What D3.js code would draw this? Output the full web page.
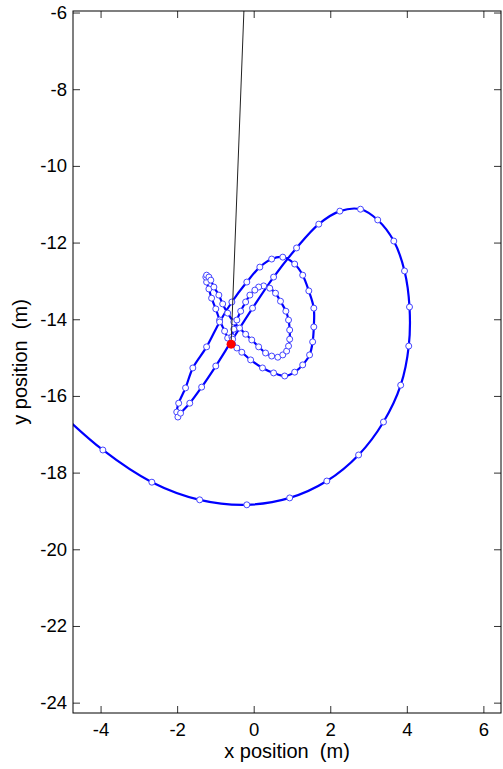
<!DOCTYPE html>
<html><head><meta charset="utf-8">
<script src="https://cdn.jsdelivr.net/npm/d3@7"></script>
<style>
body{margin:0;background:#fff}
svg{display:block}
text{font-family:"Liberation Sans",Arial,sans-serif;fill:#000}
</style>
</head><body>
<svg id="chart" width="503" height="769"></svg>
<script>
// trajectory (x, y in metres)
const xPos = [-0.60,-0.68,-0.76,-0.89,-0.99,-1.10,-1.17,-1.23,-1.25,-1.23,-1.17,-1.12,-1.04,-0.91,-0.81,-0.68,-0.52,-0.37,-0.21,-0.05,
  0.13,0.31,0.47,0.63,0.76,0.86,0.91,0.94,0.94,0.91,0.84,0.70,0.57,0.42,0.26,0.13,0.03,-0.10,-0.21,-0.34,
  -0.44,-0.52,-0.57,-0.55,-0.44,-0.31,-0.08,0.23,0.52,0.81,1.07,1.28,1.46,1.54,1.57,1.57,1.44,1.28,1.07,0.76,
  0.47,0.16,-0.18,-0.57,-0.89,-1.23,-1.59,-1.78,-1.96,-2.01,-1.98,-1.91,-1.67,-1.36,-0.99,-0.55,-0.03,0.52,1.12,1.70,
  2.25,2.79,3.24,3.66,3.94,4.07,4.05,3.84,3.39,2.74,1.91,0.94,-0.18,-1.41,-2.66,-3.94,-5.46];
const yPos = [-14.62,-14.49,-14.31,-14.02,-13.73,-13.45,-13.21,-13.03,-12.90,-12.85,-12.90,-12.98,-13.16,-13.37,-13.60,-13.84,-14.07,-14.23,-14.39,-14.54,
  -14.72,-14.88,-14.96,-14.99,-14.93,-14.83,-14.70,-14.52,-14.28,-14.02,-13.79,-13.53,-13.32,-13.19,-13.13,-13.16,-13.24,-13.37,-13.55,-13.79,
  -14.02,-14.26,-14.46,-14.65,-14.75,-14.86,-15.06,-15.27,-15.40,-15.48,-15.38,-15.19,-14.93,-14.59,-14.20,-13.71,-13.26,-12.85,-12.56,-12.38,
  -12.43,-12.64,-13.03,-13.55,-14.07,-14.72,-15.27,-15.79,-16.19,-16.42,-16.55,-16.45,-16.19,-15.77,-15.22,-14.52,-13.71,-12.90,-12.14,-11.52,
  -11.18,-11.13,-11.41,-11.96,-12.74,-13.68,-14.70,-15.72,-16.68,-17.54,-18.22,-18.66,-18.84,-18.71,-18.25,-17.41,-16.05];
const redPoint = [-0.59, -14.65];
const headingEnd = [-0.18, -4.0];
const xTicks = [-4, -2, 0, 2, 4, 6];
const yTicks = [-6, -8, -10, -12, -14, -16, -18, -20, -22, -24];
const xDomain = [-4.72, 6.46];
const yDomain = [-24.27, -5.96];
const xLabel = "x position  (m)";
const yLabel = "y position  (m)";

const margin = {left: 73, top: 11, right: 2, bottom: 56};
const W = 503, H = 769;
const w = W - margin.left - margin.right, h = H - margin.top - margin.bottom;

const svg = d3.select("#chart");
const g = svg.append("g").attr("transform", `translate(${margin.left},${margin.top})`);
const x = d3.scaleLinear().domain(xDomain).range([0, w]);
const y = d3.scaleLinear().domain(yDomain).range([h, 0]);

svg.append("defs").append("clipPath").attr("id", "clip")
  .append("rect").attr("width", w).attr("height", h);

const n = Math.min(xPos.length, yPos.length);
const pts = d3.range(n).map(i => [xPos[i], yPos[i]]);

const plot = g.append("g").attr("clip-path", "url(#clip)");
const line = d3.line().x(d => x(d[0])).y(d => y(d[1])).curve(d3.curveCatmullRom.alpha(0.5));
plot.append("path").datum(pts).attr("d", line)
  .attr("fill", "none").attr("stroke", "#0000ff").attr("stroke-width", 2.2)
  .attr("stroke-linejoin", "round");
plot.selectAll("circle.pt").data(pts).join("circle").attr("class", "pt")
  .attr("cx", d => x(d[0])).attr("cy", d => y(d[1])).attr("r", 3)
  .attr("fill", "#fff").attr("stroke", "#4646ff").attr("stroke-width", 1);
plot.append("line")
  .attr("x1", x(redPoint[0])).attr("y1", y(redPoint[1]))
  .attr("x2", x(headingEnd[0])).attr("y2", y(headingEnd[1]))
  .attr("stroke", "#222").attr("stroke-width", 1);
plot.append("circle").attr("cx", x(redPoint[0])).attr("cy", y(redPoint[1]))
  .attr("r", 4.5).attr("fill", "#ff0000");

const fmt = d => String(d);
const tickLen = 7;
function styleAxis(sel, showLabels) {
  sel.select(".domain").remove();
  sel.selectAll(".tick line").attr("stroke", "#333");
  sel.selectAll(".tick text").attr("font-size", "18.5px").attr("fill", "#000")
    .attr("font-family", '"Liberation Sans",Arial,sans-serif');
  if (!showLabels) sel.selectAll(".tick text").remove();
}
g.append("g").attr("transform", `translate(0,${h})`)
  .call(d3.axisBottom(x).tickValues(xTicks).tickFormat(fmt).tickSize(-tickLen).tickPadding(10))
  .call(s => styleAxis(s, true));
g.append("g")
  .call(d3.axisTop(x).tickValues(xTicks).tickFormat(fmt).tickSize(-tickLen))
  .call(s => styleAxis(s, false));
g.append("g")
  .call(d3.axisLeft(y).tickValues(yTicks).tickFormat(fmt).tickSize(-tickLen).tickPadding(6))
  .call(s => styleAxis(s, true));
g.append("g").attr("transform", `translate(${w},0)`)
  .call(d3.axisRight(y).tickValues(yTicks).tickFormat(fmt).tickSize(-tickLen))
  .call(s => styleAxis(s, false));

g.append("rect").attr("width", w).attr("height", h)
  .attr("fill", "none").attr("stroke", "#000").attr("stroke-width", 1);

svg.append("text").attr("x", margin.left + w / 2).attr("y", 758)
  .attr("text-anchor", "middle").attr("font-size", "20px")
  .style("white-space", "pre").text(xLabel);
svg.append("text").attr("transform", `translate(27,${margin.top + h / 2}) rotate(-90)`)
  .attr("text-anchor", "middle").attr("font-size", "20px")
  .style("white-space", "pre").text(yLabel);
</script>
</body></html>
